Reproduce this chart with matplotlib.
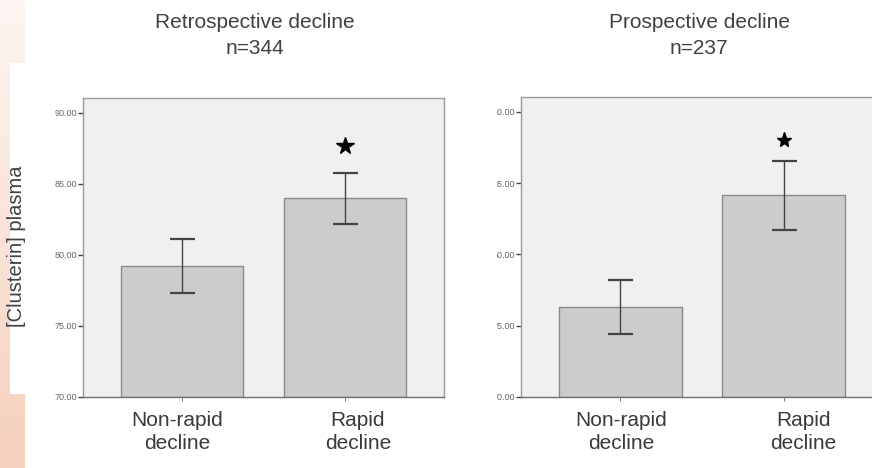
import numpy as np
import matplotlib
matplotlib.use("Agg")
import matplotlib.pyplot as plt
from matplotlib.patches import Rectangle
from matplotlib.transforms import ScaledTranslation, Bbox, TransformedBbox, blended_transform_factory

plt.rcParams['font.family'] = ['Liberation Sans', 'DejaVu Sans']

groups = ["Non-rapid\ndecline", "Rapid\ndecline"]
retro_means = [79.2, 84.0]
retro_err = [1.9, 1.8]
prosp_means = [76.3, 84.15]
prosp_err = [1.9, 2.4]
yticks = [70, 75, 80, 85, 90]
significant = [False, True]

W, H = 872, 468
fig = plt.figure(figsize=(W / 100, H / 100), dpi=100)


def px(x0, y0, w, h):
    # pixel box (top-left origin) -> figure fraction rect
    return [x0 / W, (H - y0 - h) / H, w / W, h / H]


# slide background: peach strip on the left, white content box over it
grad = np.linspace(0, 1, 256).reshape(-1, 1)
bg = fig.add_axes([0, 0, 24 / W, 1], zorder=-2)
top_col = np.array([0xfd, 0xf6, 0xf2]) / 255
bot_col = np.array([0xf5, 0xd0, 0xbe]) / 255
img = top_col + (bot_col - top_col) * grad[:, :, None]
bg.imshow(img.reshape(256, 1, 3), aspect='auto', extent=[0, 1, 0, 1], origin='upper')
bg.axis('off')
fig.patches.append(Rectangle((10 / W, (H - 394) / H), 0.5, 331 / H,
                             transform=fig.transFigure, facecolor='white',
                             edgecolor='none', zorder=-1))


def panel(rect, means, errs, label_dx, star_dy):
    ax = fig.add_axes(rect)
    x = np.arange(len(means))
    ax.set_facecolor('#f0f0f0')
    ax.bar(x, np.array(means) - 70, bottom=70, width=0.75, color='#cccccc',
           edgecolor='#8a8a8a', linewidth=1.0, zorder=2)
    ax.errorbar(x, means, yerr=errs, fmt='none', ecolor='#444444',
                elinewidth=1.0, capsize=9, capthick=1.6, zorder=3)
    for xi, m, e, sig in zip(x, means, errs, significant):
        if sig:
            off = ScaledTranslation(0, star_dy / 72, fig.dpi_scale_trans)
            ax.plot(xi, m + e, marker='*', color='black',
                    markersize=13 if star_dy > 16 else 11,
                    transform=ax.transData + off, zorder=4)
    ax.set_xlim(-0.61, 1.61)
    ax.set_ylim(70, 91.05)
    ax.set_yticks(yticks)
    ax.set_yticklabels([f"{v:.2f}" for v in yticks], fontsize=6.5, color='#666666')
    ax.tick_params(axis='y', length=3.5, width=1, color='#444444', pad=1)
    ax.set_xticks(x)
    ax.set_xticklabels([])
    ax.tick_params(axis='x', length=3, width=0.6, color='#666666')
    for s in ax.spines.values():
        s.set_color('#9a9a9a')
        s.set_linewidth(1.0)
    ax.spines['bottom'].set_color('#707070')
    trans = blended_transform_factory(ax.transData, ax.transAxes)
    for xi, lab, dx in zip(x, groups, label_dx):
        off = ScaledTranslation(dx / 100, -14 / 100, fig.dpi_scale_trans)
        ax.text(xi, 0, lab, transform=trans + off, ha='center', va='top',
                fontsize=15, color='#3a3a3a', linespacing=1.28)
    return ax


ax1 = panel(px(83, 98, 361, 299), retro_means, retro_err, [-5, 13], 19)
ax2 = panel(px(521, 97, 362, 300), prosp_means, prosp_err, [1, 20], 15)

# left edge of the right panel's tick labels is cut off
clip = TransformedBbox(Bbox([[497 / W, 0], [1, 1]]), fig.transFigure)
for lbl in ax2.get_yticklabels():
    lbl.set_clip_on(True)
    lbl.set_clip_box(clip)

fig.text(16 / W, (H - 246) / H, "[Clusterin] plasma", rotation=90,
         ha='center', va='center', fontsize=14.5, color='#404040')

for cx, title, n in [(255, "Retrospective decline", "n=344"),
                     (699, "Prospective decline", "n=237")]:
    fig.text(cx / W, (H - 28) / H, title, ha='center', va='baseline',
             fontsize=15, color='#404040')
    fig.text(cx / W, (H - 54) / H, n, ha='center', va='baseline',
             fontsize=15, color='#404040')

fig.savefig("out.png", dpi=100)
